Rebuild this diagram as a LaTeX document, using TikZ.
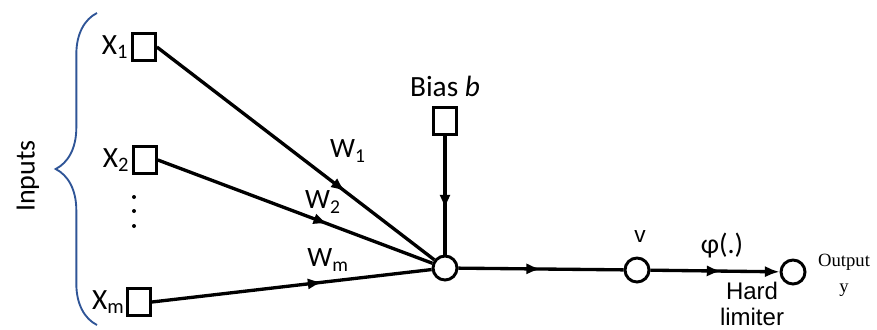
\documentclass[tikz,border=0pt]{standalone}
\usepackage{fontspec}
\setmainfont{Carlito}
\newfontfamily\arialface{Liberation Sans}
\newfontfamily\timesface{Liberation Serif}
\usetikzlibrary{positioning, arrows.meta, decorations.markings, decorations.pathreplacing}
\definecolor{braceblue}{RGB}{47, 85, 151}
\newcommand{\lowsub}[1]{\textsubscript{#1}}

\begin{document}
\begin{tikzpicture}[
            x=0.75pt, y=-0.75pt,
            node distance=1pt and 1pt,
            inbox/.style={draw, line width=1.8pt, fill=white, minimum width=17.5pt, minimum height=20.5pt, inner sep=0pt},
            sumnode/.style={draw, circle, line width=2.2pt, fill=white, minimum size=18pt, inner sep=0pt},
            lbl/.style={font=\fontsize{22}{24}\selectfont, inner sep=1pt},
            wire/.style={line width=2.5pt},
            midarrow/.style={wire, postaction={decorate}, decoration={markings, mark=at position #1 with {\arrow{Latex[length=11pt,width=8.5pt]}}}}
        ]
            \useasboundingbox (0,0) rectangle (877,329);

            \node[inbox] (x1) at (144,47) {};
            \node[inbox] (x2) at (145,160) {};
            \node[inbox] (xm) at (139,302) {};
            \node[inbox] (bias) at (445,121) {};
            \node[sumnode] (sum) at (445,268) {};
            \node[sumnode] (v) at (637,270) {};
            \node[sumnode] (out) at (793,272) {};

            \node[lbl, left=of x1] (x1lbl) {X\lowsub{1}};
            \node[lbl, left=of x2] (x2lbl) {X\lowsub{2}};
            \node[lbl, left=0pt of xm] (xmlbl) {X\lowsub{m}};
            \node[lbl, above=6pt of bias] (biaslbl) {Bias \textit{b}};
            \node[lbl, font=\fontsize{21}{24}\selectfont, rotate=90] (inputs) at (28,176) {Inputs};

            \node[lbl, font=\fontsize{21}{22}\selectfont] (w1) at (348,151) {W\lowsub{1}};
            \node[lbl, font=\fontsize{21}{22}\selectfont] (w2) at (323,202) {W\lowsub{2}};
            \node[lbl, font=\fontsize{21}{22}\selectfont] (wm) at (328,260) {W\lowsub{m}};
            \node[lbl, font=\arialface\fontsize{17}{20}\selectfont] (vlbl) at (640,237) {v};
            \node[lbl, font=\fontsize{21}{24}\selectfont] (phi) at (722,246) {φ(.)};
            \node[lbl, font=\arialface\fontsize{18}{19.5}\selectfont, align=center, anchor=north, inner sep=0pt] (hard) at (752,282) {Hard\\limiter};
            \node[lbl, font=\timesface\fontsize{14}{19.5}\selectfont, align=center] (output) at (844,275) {Output\\y};

            \foreach \y in {197,211,226}
                \fill (134,\y) circle (1.5pt);

            \draw[braceblue, line width=1.4pt, decorate, decoration={brace, amplitude=31pt}] (97,325) -- (97,13);

            \draw[midarrow=0.68] (x1.east) -- (sum);
            \draw[midarrow=0.62] (x2.east) -- (sum);
            \draw[midarrow=0.61] (xm.east) -- (sum);
            \draw[midarrow=0.62] (bias) -- (sum);
            \draw[midarrow=0.5] (sum) -- (v);
            \draw[midarrow=0.55, -{Latex[length=11pt,width=8.5pt]}] (v) -- (out);
        \end{tikzpicture}
\end{document}
